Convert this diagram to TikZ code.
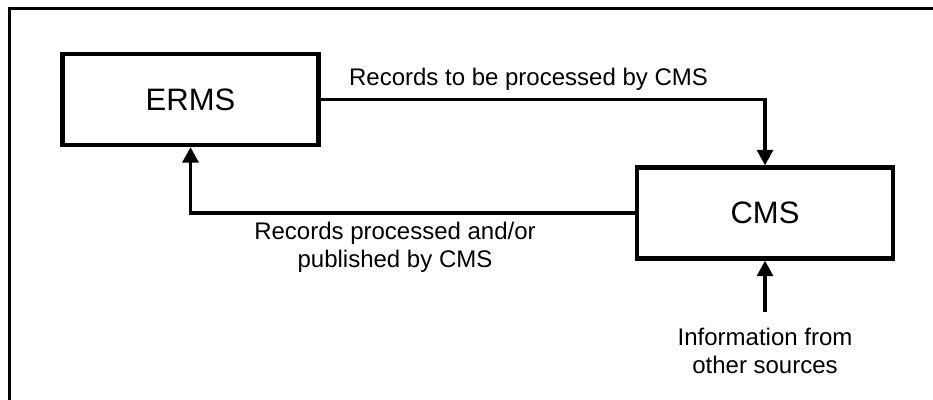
\documentclass[tikz,border=0pt]{standalone}
\usepackage{fontspec}
\setmainfont{Liberation Sans}
\usetikzlibrary{arrows.meta}
\tikzset{
  sysbox/.style={draw=black, line width=4.3pt, rectangle, minimum width=256pt, minimum height=91pt, inner sep=0pt, font=\fontsize{31}{36}\selectfont},
  flow/.style={draw=black, line width=3.2pt, -{Triangle[length=15.5pt,width=16pt]}},
  lbl/.style={inner sep=0pt, align=center, font=\fontsize{24}{28}\selectfont},
  frame/.style={draw=black, line width=3pt}
}
\begin{document}
\begin{tikzpicture}[x=1pt,y=-1pt]
\useasboundingbox (0,0) rectangle (933,399);
\draw[frame] (9.7,405) -- (9.7,8.7) -- (940,8.7);
\node[sysbox] (erms) at (190.5,99.5) {ERMS};
\node[sysbox] (cms) at (765,213) {CMS};
\node[lbl, anchor=base] (l1) at (528.5,85) {Records to be processed by CMS};
\node[lbl] (l2) at (395,247.75) {Records processed and/or\\published by CMS};
\node[lbl] (l3) at (765,351.25) {Information from\\other sources};
\coordinate (src) at (765,312);
\draw[flow] (erms.east) -| (cms.north);
\draw[flow] (cms.west) -| (erms.south);
\draw[flow] (src) -- (cms.south);
\end{tikzpicture}
\end{document}
